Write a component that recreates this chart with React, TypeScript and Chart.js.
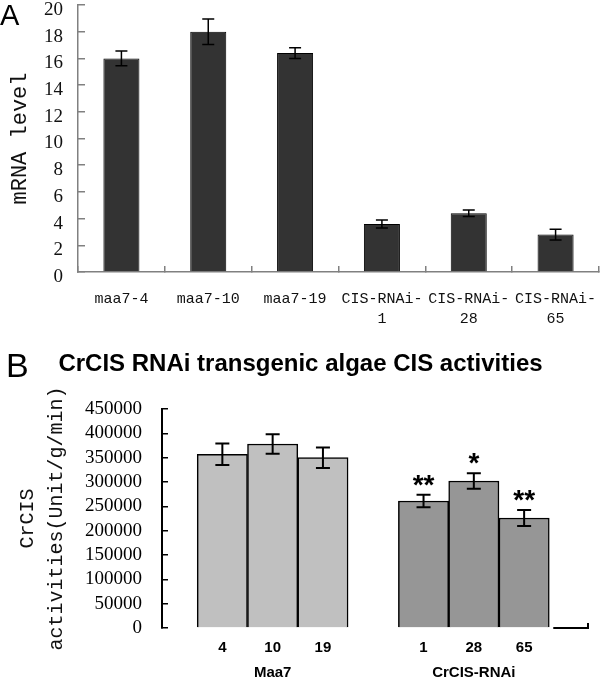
import React, { useEffect, useRef } from 'react';
import { Chart, registerables } from 'chart.js';

Chart.register(...registerables);

// ---------- Panel A: mRNA level ----------
const mrnaLabels: (string | string[])[] = [
  'maa7-4',
  'maa7-10',
  'maa7-19',
  ['CIS-RNAi-', '1'],
  ['CIS-RNAi-', '28'],
  ['CIS-RNAi-', '65'],
];
const mrnaLevels = [16.0, 18.0, 16.4, 3.6, 4.4, 2.8];
const mrnaErrors = [0.55, 0.95, 0.4, 0.3, 0.25, 0.4];
const mrnaAxisTitle = 'mRNA level';

// ---------- Panel B: CIS activities ----------
const panelBTitle = 'CrCIS RNAi transgenic algae CIS activities';
const groupNames = ['Maa7', 'CrCIS-RNAi'];
const maa7Lines = ['4', '10', '19'];
const maa7Activity = [357000, 378000, 350000];
const maa7Errors = [22000, 20000, 21000];
const rnaiLines = ['1', '28', '65'];
const rnaiActivity = [261000, 302000, 226000];
const rnaiErrors = [13000, 16000, 16500];
const rnaiSignificance = ['**', '*', '**'];
const activityAxisTitle = ['CrCIS', 'activities(Unit/g/min)'];

// slot index of each bar on the B x axis (one empty slot between the groups)
const maa7Slots = maa7Lines.map((_, i) => i);
const rnaiSlots = rnaiLines.map((_, i) => maa7Lines.length + 1 + i);

const tickEntries: { value: number; label: string | string[] }[] = [
  ...maa7Lines.map((l, i) => ({
    value: maa7Slots[i],
    label: i === Math.floor(maa7Lines.length / 2) ? [l, groupNames[0]] : l,
  })),
  ...rnaiLines.map((l, i) => ({
    value: rnaiSlots[i],
    label: i === Math.floor(rnaiLines.length / 2) ? [l, groupNames[1]] : l,
  })),
];

const errorBarPlugin = {
  id: 'errorBars',
  afterDatasetsDraw(chart: any, _args: any, opts: any) {
    const { ctx } = chart;
    const yScale = chart.scales.y;
    chart.data.datasets.forEach((ds: any, di: number) => {
      if (!ds.errors) return;
      const meta = chart.getDatasetMeta(di);
      meta.data.forEach((el: any, i: number) => {
        const d = ds.data[i];
        const v = typeof d === 'number' ? d : d.y;
        const e = ds.errors[i];
        const yTop = yScale.getPixelForValue(v + e);
        const yBot = yScale.getPixelForValue(v - e);
        const x = el.x;
        const hw = opts.capHalf || 6;
        ctx.save();
        ctx.strokeStyle = '#000';
        ctx.lineWidth = opts.lineWidth || 1.5;
        ctx.beginPath();
        ctx.moveTo(x, yTop);
        ctx.lineTo(x, yBot);
        ctx.moveTo(x - hw, yTop);
        ctx.lineTo(x + hw, yTop);
        ctx.moveTo(x - hw, yBot);
        ctx.lineTo(x + hw, yBot);
        ctx.stroke();
        if (ds.marks && ds.marks[i]) {
          ctx.fillStyle = '#000';
          ctx.font = 'bold 28px "Liberation Sans", Arial, sans-serif';
          ctx.textAlign = 'center';
          ctx.textBaseline = 'alphabetic';
          ctx.fillText(ds.marks[i], x, yTop - 1);
        }
        ctx.restore();
      });
    });
  },
};

const axisStubPlugin = {
  id: 'axisStub',
  afterDraw(chart: any) {
    const { ctx, chartArea } = chart;
    const meta = chart.getDatasetMeta(chart.data.datasets.length - 1);
    const last = meta.data[meta.data.length - 1];
    if (!last) return;
    const x0 = last.x + last.width / 2 + 4;
    const x1 = chartArea.right;
    const y = chartArea.bottom;
    ctx.save();
    ctx.strokeStyle = '#000';
    ctx.lineWidth = 2;
    ctx.beginPath();
    ctx.moveTo(x0, y);
    ctx.lineTo(x1, y);
    ctx.lineTo(x1, y - 5);
    ctx.stroke();
    ctx.restore();
  },
};

function PanelA() {
  const ref = useRef<HTMLCanvasElement>(null);
  useEffect(() => {
    const chart = new Chart(ref.current as HTMLCanvasElement, {
      type: 'bar',
      data: {
        labels: mrnaLabels as any,
        datasets: [
          {
            data: mrnaLevels,
            backgroundColor: '#333333',
            borderColor: '#000000',
            borderWidth: 1,
            barPercentage: 0.415,
            categoryPercentage: 1,
            errors: mrnaErrors,
          } as any,
        ],
      },
      options: {
        animation: false,
        responsive: false,
        layout: { padding: { top: 5, right: 1, left: 0, bottom: 0 } },
        plugins: {
          legend: { display: false },
          tooltip: { enabled: false },
          errorBars: { capHalf: 6, lineWidth: 1.5 },
        } as any,
        scales: {
          x: {
            grid: {
              display: true,
              drawOnChartArea: false,
              drawTicks: true,
              tickLength: -6,
              color: '#808080',
              lineWidth: 1.5,
            },
            border: { display: true, color: '#808080', width: 1.5 },
            ticks: {
              color: '#111',
              font: { family: '"Liberation Mono", monospace', size: 15, lineHeight: 1.333 },
              padding: 23,
              maxRotation: 0,
              minRotation: 0,
              autoSkip: false,
            },
            afterFit: (s: any) => {
              s.height = 63;
              s.paddingLeft = 0;
              s.paddingRight = 0;
            },
          },
          y: {
            min: 0,
            max: 20,
            ticks: {
              stepSize: 2,
              autoSkip: false,
              color: '#111',
              font: { family: '"Liberation Serif", serif', size: 19 },
              padding: 22,
              labelOffset: 5,
            },
            grid: {
              drawOnChartArea: false,
              tickLength: -7,
              color: '#808080',
              lineWidth: 1.5,
            },
            border: { color: '#808080', width: 1.5 },
            title: {
              display: true,
              text: mrnaAxisTitle,
              color: '#111',
              font: { family: '"Liberation Mono", monospace', size: 22 },
              padding: { top: 7, bottom: 0 },
            },
            afterFit: (s: any) => {
              s.width = 78;
              s.paddingTop = 0;
              s.paddingBottom = 0;
            },
          },
        } as any,
      },
      plugins: [errorBarPlugin],
    });
    return () => chart.destroy();
  }, []);
  return (
    <canvas ref={ref} width={600} height={335} style={{ position: 'absolute', left: 0, top: 0 }} />
  );
}

function PanelB() {
  const ref = useRef<HTMLCanvasElement>(null);
  useEffect(() => {
    const chart = new Chart(ref.current as HTMLCanvasElement, {
      type: 'bar',
      data: {
        datasets: [
          {
            label: groupNames[0],
            data: maa7Activity.map((v, i) => ({ x: maa7Slots[i], y: v })),
            backgroundColor: '#c0c0c0',
            borderColor: '#000000',
            borderWidth: 1.5,
            errors: maa7Errors,
          } as any,
          {
            label: groupNames[1],
            data: rnaiActivity.map((v, i) => ({ x: rnaiSlots[i], y: v })),
            backgroundColor: '#969696',
            borderColor: '#000000',
            borderWidth: 1.5,
            errors: rnaiErrors,
            marks: rnaiSignificance,
          } as any,
        ],
      },
      options: {
        animation: false,
        responsive: false,
        datasets: { bar: { grouped: false, barPercentage: 1, categoryPercentage: 1 } },
        layout: { padding: { top: 0, left: 13, right: 12, bottom: 0 } },
        plugins: {
          legend: { display: false },
          tooltip: { enabled: false },
          errorBars: { capHalf: 7, lineWidth: 2 },
          title: {
            display: true,
            text: panelBTitle,
            color: '#000',
            font: { family: '"Liberation Sans", Arial, sans-serif', size: 24, weight: 'bold' },
            padding: { top: 14.6, bottom: 30.6 },
          },
        } as any,
        scales: {
          x: {
            type: 'linear',
            min: -1.2,
            max: 7.27,
            offset: false,
            grid: { display: false, drawTicks: false },
            border: { display: false },
            afterBuildTicks: (s: any) => {
              s.ticks = tickEntries.map((t) => ({ value: t.value }));
            },
            ticks: {
              callback: (v: any) => {
                const t = tickEntries.find((e) => e.value === v);
                return t ? t.label : '';
              },
              color: '#000',
              font: { family: '"Liberation Sans", Arial, sans-serif', size: 15, weight: 'bold', lineHeight: 1.667 },
              padding: 7.5,
              maxRotation: 0,
              minRotation: 0,
              autoSkip: false,
            },
            afterFit: (s: any) => {
              s.height = 52;
              s.paddingLeft = 0;
              s.paddingRight = 0;
            },
          },
          y: {
            min: 0,
            max: 450000,
            ticks: {
              stepSize: 50000,
              autoSkip: false,
              callback: (v: any) => String(v),
              color: '#000',
              font: { family: '"Liberation Serif", serif', size: 19 },
              padding: 26,
            },
            grid: {
              drawOnChartArea: false,
              tickLength: -6,
              color: '#000',
              lineWidth: 1.5,
            },
            border: { color: '#000', width: 2 },
            title: {
              display: true,
              text: activityAxisTitle,
              color: '#111',
              font: { family: '"Liberation Mono", monospace', size: 20, lineHeight: 1.45 },
              padding: { top: 0, bottom: 0 },
            },
            afterFit: (s: any) => {
              s.width = 149;
              s.paddingTop = 0;
              s.paddingBottom = 0;
            },
          },
        } as any,
      },
      plugins: [errorBarPlugin, axisStubPlugin],
    });
    return () => chart.destroy();
  }, []);
  return (
    <canvas ref={ref} width={600} height={345} style={{ position: 'absolute', left: 0, top: 335 }} />
  );
}

export default function App() {
  return (
    <div
      style={{
        position: 'absolute',
        left: 0,
        top: 0,
        width: 600,
        height: 680,
        background: '#ffffff',
        overflow: 'hidden',
      }}
    >
      <PanelA />
      <PanelB />
      <div
        style={{
          position: 'absolute',
          left: 0,
          top: 1,
          font: '29px "Liberation Sans", Arial, sans-serif',
          lineHeight: 1,
          color: '#000',
        }}
      >
        A
      </div>
      <div
        style={{
          position: 'absolute',
          left: 6,
          top: 348,
          font: '34px "Liberation Sans", Arial, sans-serif',
          lineHeight: 1,
          color: '#000',
        }}
      >
        B
      </div>
    </div>
  );
}
